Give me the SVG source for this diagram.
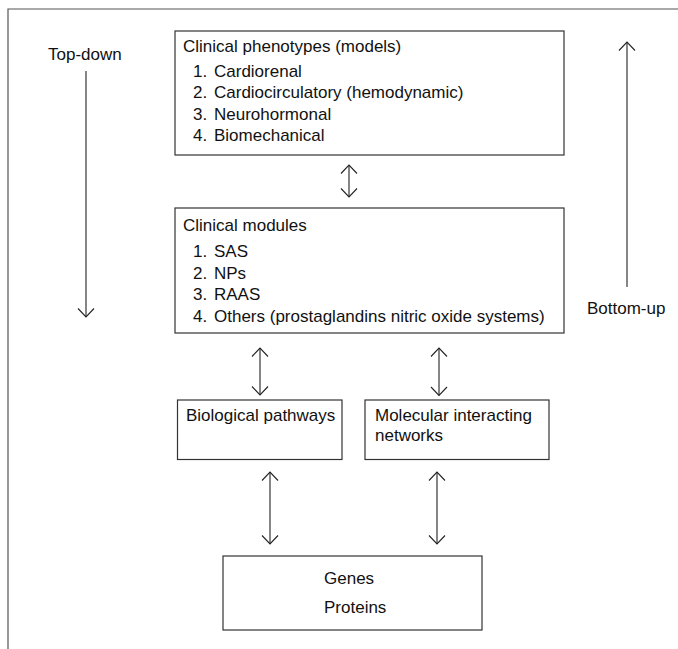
<svg xmlns="http://www.w3.org/2000/svg" width="678" height="649" viewBox="0 0 678 649">
<style>
text{font-family:"Liberation Sans",Arial,sans-serif;font-size:17px;fill:#111}
.box{fill:#fff;stroke:#333;stroke-width:1.2}
.frame{fill:none;stroke:#555;stroke-width:1.2}
.arr{fill:none;stroke:#222;stroke-width:1.1}
</style>
<defs>
<marker id="chev" viewBox="-11 -10 13 20" markerWidth="13" markerHeight="20" refX="0" refY="0" orient="auto-start-reverse" markerUnits="userSpaceOnUse">
<path d="M -8.5 -8 L 0 0 L -8.5 8" fill="none" stroke="#222" stroke-width="1.1"/>
</marker>
</defs>
<path class="frame" d="M 8 649 L 8 9 L 678 9"/>
<g id="top-down">
<text x="48" y="60">Top-down</text>
</g>
<g id="bottom-up">
<text x="587" y="314">Bottom-up</text>
</g>
<g id="phenotypes">
<rect class="box" x="175" y="31" width="389" height="124"/>
<text x="183" y="52">Clinical phenotypes (models)</text>
<text x="193" y="76.5">1.</text><text x="214" y="76.5">Cardiorenal</text>
<text x="193" y="98">2.</text><text x="214" y="98">Cardiocirculatory (hemodynamic)</text>
<text x="193" y="119.5">3.</text><text x="214" y="119.5">Neurohormonal</text>
<text x="193" y="141">4.</text><text x="214" y="141">Biomechanical</text>
</g>
<g id="modules">
<rect class="box" x="175" y="208" width="389" height="125"/>
<text x="183" y="231">Clinical modules</text>
<text x="193" y="257">1.</text><text x="214" y="257">SAS</text>
<text x="193" y="278.5">2.</text><text x="214" y="278.5">NPs</text>
<text x="193" y="300">3.</text><text x="214" y="300">RAAS</text>
<text x="193" y="321.5">4.</text><text x="214" y="321.5">Others (prostaglandins nitric oxide systems)</text>
</g>
<g id="pathways">
<rect class="box" x="177.5" y="400" width="164.5" height="59.5"/>
<text x="186" y="421">Biological pathways</text>
</g>
<g id="networks">
<rect class="box" x="365" y="400" width="184" height="59.5"/>
<text x="375" y="421">Molecular interacting</text>
<text x="375" y="441">networks</text>
</g>
<g id="genes">
<rect class="box" x="223" y="556" width="259" height="74"/>
<text x="324" y="584">Genes</text>
<text x="324" y="613">Proteins</text>
</g>
<g id="connectors">
<line class="arr" x1="86" y1="71" x2="86" y2="317" marker-end="url(#chev)"/>
<line class="arr" x1="627" y1="287" x2="627" y2="42" marker-end="url(#chev)"/>
<line class="arr" x1="349" y1="165" x2="349" y2="197" marker-start="url(#chev)" marker-end="url(#chev)"/>
<line class="arr" x1="260" y1="348" x2="260" y2="395" marker-start="url(#chev)" marker-end="url(#chev)"/>
<line class="arr" x1="439" y1="348" x2="439" y2="395.5" marker-start="url(#chev)" marker-end="url(#chev)"/>
<line class="arr" x1="270" y1="472" x2="270" y2="544" marker-start="url(#chev)" marker-end="url(#chev)"/>
<line class="arr" x1="437" y1="472" x2="437" y2="544" marker-start="url(#chev)" marker-end="url(#chev)"/>
</g>
</svg>
